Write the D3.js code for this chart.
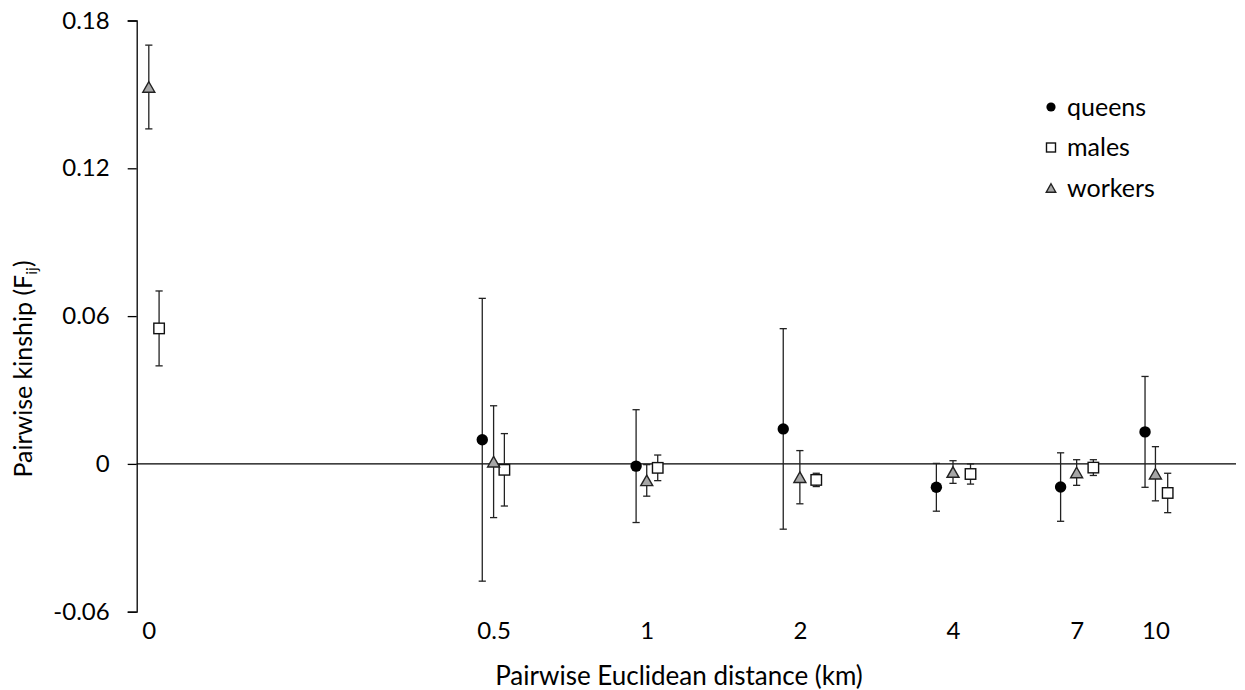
<!DOCTYPE html>
<html>
<head>
<meta charset="utf-8">
<script src="https://cdn.jsdelivr.net/npm/d3@7"></script>
<style>
  html, body { margin: 0; padding: 0; background: #fff; }
  svg { display: block; font-family: Lato, "Open Sans", sans-serif; }
</style>
</head>
<body>
<svg id="chart" width="1245" height="690"></svg>
<script>
// Distance classes (km). The "0" class cannot sit on a log axis, so it is
// drawn at a nominal 0.105 km, left of the 0.5 km class.
const distanceClasses = ["0", "0.5", "1", "2", "4", "7", "10"];
const classKm = [0.105, 0.5, 1, 2, 4, 7, 10];

// Queens: no pairs in the 0 class
const queensKm = [0.475, 0.953, 1.855, 3.71, 6.51, 9.54];
const queensF  = [0.0098, -0.0009, 0.0142, -0.0095, -0.0094, 0.0130];
const queensSE = [0.0574, 0.0229, 0.0407, 0.0097, 0.0139, 0.0225];

// Males
const malesKm = [0.110, 0.525, 1.051, 2.154, 4.33, 7.55, 10.57];
const malesF  = [0.0550, -0.0024, -0.0016, -0.0065, -0.0041, -0.0015, -0.0118];
const malesSE = [0.0152, 0.0147, 0.0052, 0.0027, 0.0041, 0.0032, 0.0080];

// Workers
const workersKm = [0.105, 0.5, 1, 2, 4, 7, 10];
const workersF  = [0.1530, 0.0009, -0.0067, -0.0054, -0.0033, -0.0035, -0.0040];
const workersSE = [0.0170, 0.0227, 0.0064, 0.0108, 0.0046, 0.0052, 0.0110];

const yTicks = [-0.06, 0, 0.06, 0.12, 0.18];

const svg = d3.select("#chart");

const x = d3.scaleLog().domain([0.0994, 14.4]).range([136.7, 1236]);
const y = d3.scaleLinear().domain([-0.06, 0.18]).range([611.7, 20.5]);

function series(name, km, f, se) {
  return km.map((d, i) => ({ name, km: d, f: f[i], se: se[i] }));
}
const queens = series("queens", queensKm, queensF, queensSE);
const males = series("males", malesKm, malesF, malesSE);
const workers = series("workers", workersKm, workersF, workersSE);

// Y axis
const yAxis = svg.append("g")
  .attr("transform", `translate(${x.range()[0]},0)`)
  .call(d3.axisLeft(y).tickValues(yTicks).tickSize(9).tickPadding(18)
    .tickFormat(d => String(d)));
yAxis.select(".domain").attr("stroke", "#000").attr("stroke-width", 1.3);
yAxis.selectAll(".tick line").attr("stroke", "#000").attr("stroke-width", 1.3);
yAxis.selectAll("text").attr("font-size", 24).attr("fill", "#000")
  .attr("font-family", "Lato, sans-serif");

// X tick labels (no axis line; the zero line serves as reference)
const xAxis = svg.append("g")
  .attr("transform", `translate(0,${y(-0.06)})`)
  .call(d3.axisBottom(x).tickValues(classKm).tickSize(0).tickPadding(10)
    .tickFormat((d, i) => distanceClasses[i]));
xAxis.select(".domain").remove();
xAxis.selectAll("text").attr("font-size", 24).attr("fill", "#000")
  .attr("font-family", "Lato, sans-serif");

// Zero line
svg.append("line")
  .attr("x1", x.range()[0]).attr("x2", x.range()[1])
  .attr("y1", y(0)).attr("y2", y(0))
  .attr("stroke", "#000").attr("stroke-width", 1.2);

// Error bars
const capW = 3.6;
function errorBars(data) {
  const g = svg.append("g").attr("stroke", "#222").attr("stroke-width", 1.3).attr("fill", "none");
  const bars = g.selectAll("g").data(data).join("g");
  bars.append("line")
    .attr("x1", d => x(d.km)).attr("x2", d => x(d.km))
    .attr("y1", d => y(d.f + d.se)).attr("y2", d => y(d.f - d.se));
  bars.append("line")
    .attr("x1", d => x(d.km) - capW).attr("x2", d => x(d.km) + capW)
    .attr("y1", d => y(d.f + d.se)).attr("y2", d => y(d.f + d.se));
  bars.append("line")
    .attr("x1", d => x(d.km) - capW).attr("x2", d => x(d.km) + capW)
    .attr("y1", d => y(d.f - d.se)).attr("y2", d => y(d.f - d.se));
}
errorBars(queens);
errorBars(males);
errorBars(workers);

// Marker shapes
function trianglePath(w, h) {
  return `M0,${-h / 2}L${w / 2},${h / 2}L${-w / 2},${h / 2}Z`;
}
function drawCircle(sel, r) {
  sel.append("circle").attr("r", r).attr("fill", "#000");
}
function drawSquare(sel, s) {
  sel.append("rect").attr("x", -s / 2).attr("y", -s / 2).attr("width", s).attr("height", s)
    .attr("fill", "#fff").attr("stroke", "#111").attr("stroke-width", 1.4);
}
function drawTriangle(sel, w, h) {
  sel.append("path").attr("d", trianglePath(w, h))
    .attr("fill", "#a6a6a6").attr("stroke", "#222").attr("stroke-width", 1.4)
    .attr("stroke-linejoin", "miter");
}

svg.append("g").selectAll("g").data(queens).join("g")
  .attr("transform", d => `translate(${x(d.km)},${y(d.f)})`)
  .call(drawCircle, 5.7);
svg.append("g").selectAll("g").data(males).join("g")
  .attr("transform", d => `translate(${x(d.km)},${y(d.f)})`)
  .call(drawSquare, 10.5);
svg.append("g").selectAll("g").data(workers).join("g")
  .attr("transform", d => `translate(${x(d.km)},${y(d.f)})`)
  .call(drawTriangle, 12, 10.5);

// Axis titles
svg.append("text")
  .attr("x", 679).attr("y", 685)
  .attr("text-anchor", "middle").attr("font-size", 26).attr("fill", "#000")
  .text("Pairwise Euclidean distance (km)");

const yTitle = svg.append("text")
  .attr("transform", "translate(32,369) rotate(-90)")
  .attr("text-anchor", "middle").attr("font-size", 25).attr("fill", "#000");
yTitle.append("tspan").text("Pairwise kinship (F");
yTitle.append("tspan").attr("font-size", 16).attr("dy", 5).text("ij");
yTitle.append("tspan").attr("dy", -5).text(")");

// Legend
const legendItems = [
  { label: "queens", draw: s => drawCircle(s, 4.6) },
  { label: "males", draw: s => drawSquare(s, 9) },
  { label: "workers", draw: s => drawTriangle(s, 9.5, 8.5) }
];
const legend = svg.append("g");
legendItems.forEach((item, i) => {
  const row = legend.append("g").attr("transform", `translate(1051,${107 + i * 40.5})`);
  row.append("g").call(item.draw);
  row.append("text").attr("x", 16).attr("dy", "0.35em")
    .attr("font-size", 25).attr("fill", "#000").text(item.label);
});
</script>
</body>
</html>
